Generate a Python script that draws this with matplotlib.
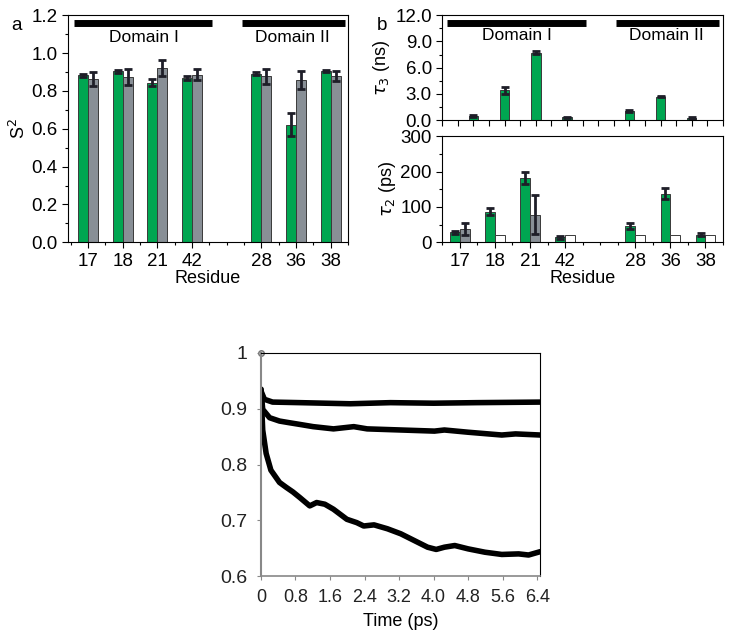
import matplotlib
matplotlib.use("Agg")
import matplotlib.pyplot as plt
from matplotlib.ticker import MultipleLocator, FixedLocator, FormatStrFormatter
import numpy as np

plt.rcParams['font.family'] = ['Liberation Sans', 'DejaVu Sans']
plt.rcParams['font.size'] = 10

# residues, placed at positions 1-4 (domain I) and 6-8 (domain II)
residues = ['17', '18', '21', '42', '28', '36', '38']
pos = [1, 2, 3, 4, 6, 7, 8]

# panel a: S2 order parameters
s2_green = [0.884, 0.903, 0.843, 0.868, 0.891, 0.621, 0.905]
s2_green_err = [0.008, 0.007, 0.018, 0.012, 0.007, 0.06, 0.005]
s2_grey = [0.863, 0.873, 0.921, 0.886, 0.877, 0.856, 0.877]
s2_grey_err = [0.039, 0.044, 0.04, 0.029, 0.04, 0.047, 0.026]

# panel b: tau3 (ns)
tau3 = [0.46, 3.43, 7.73, 0.32, 1.03, 2.7, 0.23]
tau3_err = [0.12, 0.38, 0.15, 0.08, 0.1, 0.08, 0.08]

# panel b: tau2 (ps)
tau2_green = [28, 87, 182, 14, 47, 137, 22]
tau2_green_err = [4, 11, 16, 5, 8, 16, 3]
tau2_grey_pos = [1, 3]
tau2_grey = [38, 78]
tau2_grey_err = [17, 55]
tau2_open_pos = [2, 4, 6, 7, 8]
tau2_open = [22, 22, 22, 22, 22]

# panel c: S2 convergence vs time
t_low = [0, 0.04, 0.12, 0.23, 0.43, 0.59, 0.74, 0.9, 1.13, 1.29, 1.48, 1.68, 1.99, 2.22,
         2.38, 2.62, 2.93, 3.24, 3.55, 3.86, 4.06, 4.25, 4.49, 4.8, 5.19, 5.58, 5.97, 6.2, 6.47]
s2_low = [0.935, 0.862, 0.82, 0.79, 0.768, 0.759, 0.751, 0.741, 0.726, 0.732, 0.729, 0.72,
          0.702, 0.696, 0.69, 0.692, 0.685, 0.676, 0.664, 0.652, 0.648, 0.652, 0.655, 0.649,
          0.643, 0.639, 0.64, 0.638, 0.644]
t_mid = [0, 0.04, 0.2, 0.43, 0.66, 0.9, 1.21, 1.68, 2.15, 2.46, 3.24, 4.02, 4.25, 4.8,
         5.58, 5.9, 6.47]
s2_mid = [0.935, 0.899, 0.884, 0.878, 0.875, 0.872, 0.868, 0.864, 0.868, 0.864, 0.862,
          0.86, 0.862, 0.858, 0.853, 0.855, 0.853]
t_high = [0, 0.08, 0.27, 0.9, 2.07, 3.0, 4.0, 5.0, 6.47]
s2_high = [0.932, 0.917, 0.912, 0.911, 0.909, 0.911, 0.91, 0.911, 0.912]

green = '#00a651'
grey = '#888f96'
errc = '#1e1e28'
edge = '#3a3a3a'

fig = plt.figure(figsize=(7.31, 6.36), dpi=100)

ax_a = fig.add_axes([0.093, 0.619, 0.383, 0.357])
ax_b1 = fig.add_axes([0.605, 0.811, 0.384, 0.165])
ax_b2 = fig.add_axes([0.605, 0.619, 0.384, 0.167])
ax_c = fig.add_axes([0.357, 0.094, 0.382, 0.351])

w = 0.29
p = np.array(pos)
ekw = dict(ecolor=errc, elinewidth=2, capsize=2.6, capthick=2)


def style_box(ax):
    ax.tick_params(direction='out', length=4, width=0.8, labelsize=13.5)
    ax.tick_params(which='minor', direction='out', length=2, width=0.8)
    ax.tick_params(top=False, right=False)


# ---- panel a ----
ax_a.bar(p - w / 2, s2_green, w, color=green, edgecolor=edge, linewidth=0.7,
         yerr=s2_green_err, error_kw=ekw)
ax_a.bar(p + w / 2, s2_grey, w, color=grey, edgecolor=edge, linewidth=0.7,
         yerr=s2_grey_err, error_kw=ekw)
ax_a.set_xlim(0.42, 8.5)
ax_a.set_ylim(0, 1.2)
ax_a.yaxis.set_major_locator(MultipleLocator(0.2))
ax_a.yaxis.set_minor_locator(MultipleLocator(0.1))
ax_a.yaxis.set_major_formatter(FormatStrFormatter('%.1f'))
ax_a.set_xticks(pos)
ax_a.set_xticklabels(residues)
ax_a.xaxis.set_minor_locator(FixedLocator(np.arange(0.5, 8.51, 0.5)))
style_box(ax_a)
ax_a.set_ylabel('S$^2$', fontsize=13, labelpad=2)
ax_a.set_xlabel('Residue', fontsize=13, labelpad=0)
ax_a.plot([0.6, 4.59], [1.157, 1.157], color='black', linewidth=5, solid_capstyle='butt')
ax_a.plot([5.43, 8.41], [1.157, 1.157], color='black', linewidth=5, solid_capstyle='butt')
ax_a.text(2.6, 1.085, 'Domain I', ha='center', va='center', fontsize=12.5)
ax_a.text(6.9, 1.085, 'Domain II', ha='center', va='center', fontsize=12.5)
fig.text(0.016, 0.96, 'a', fontsize=13.5, va='center')

# ---- panel b top: tau3 ----
ax_b1.bar(p, tau3, 0.3, color=green, edgecolor=edge, linewidth=0.7,
          yerr=tau3_err, error_kw=ekw)
ax_b1.set_xlim(0, 9)
ax_b1.set_ylim(0, 12)
ax_b1.yaxis.set_major_locator(MultipleLocator(3))
ax_b1.yaxis.set_minor_locator(MultipleLocator(1.5))
ax_b1.yaxis.set_major_formatter(FormatStrFormatter('%.1f'))
ax_b1.set_xticks(np.arange(0, 9.01, 0.5))
ax_b1.set_xticklabels([])
style_box(ax_b1)
ax_b1.set_ylabel(r'$\tau_3$ (ns)', fontsize=13, labelpad=2)
ax_b1.plot([0.14, 4.61], [11.16, 11.16], color='black', linewidth=5, solid_capstyle='butt')
ax_b1.plot([5.57, 8.87], [11.16, 11.16], color='black', linewidth=5, solid_capstyle='butt')
ax_b1.text(2.4, 9.7, 'Domain I', ha='center', va='center', fontsize=12.5)
ax_b1.text(7.2, 9.7, 'Domain II', ha='center', va='center', fontsize=12.5)
fig.text(0.516, 0.96, 'b', fontsize=13.5, va='center')

# ---- panel b bottom: tau2 ----
ax_b2.bar(p - 0.14, tau2_green, 0.28, color=green, edgecolor=edge, linewidth=0.7,
          yerr=tau2_green_err, error_kw=ekw)
ax_b2.bar(np.array(tau2_grey_pos) + 0.14, tau2_grey, 0.28, color=grey, edgecolor=edge,
          linewidth=0.7, yerr=tau2_grey_err, error_kw=ekw)
ax_b2.bar(np.array(tau2_open_pos) + 0.14, tau2_open, 0.28, color='white', edgecolor=edge,
          linewidth=0.7)
ax_b2.set_xlim(0.5, 8.5)
ax_b2.set_ylim(0, 300)
ax_b2.yaxis.set_major_locator(MultipleLocator(100))
ax_b2.yaxis.set_minor_locator(MultipleLocator(50))
ax_b2.set_xticks(pos)
ax_b2.set_xticklabels(residues)
ax_b2.xaxis.set_minor_locator(FixedLocator(np.arange(0.5, 8.51, 0.5)))
style_box(ax_b2)
ax_b2.set_ylabel(r'$\tau_2$ (ps)', fontsize=13, labelpad=2)
ax_b2.set_xlabel('Residue', fontsize=13, labelpad=0)

# ---- panel c ----
for tt, ss in [(t_high, s2_high), (t_mid, s2_mid), (t_low, s2_low)]:
    ax_c.plot(tt, ss, color='black', linewidth=4, solid_joinstyle='round',
              solid_capstyle='round')
ax_c.plot([0], [1.0], marker='o', markersize=4, markerfacecolor='#cccccc',
          markeredgecolor='#777777', clip_on=False)
ax_c.set_xlim(0, 6.47)
ax_c.set_ylim(0.6, 1.0)
ax_c.set_xticks(np.arange(0, 6.41, 0.8))
ax_c.set_xticklabels(['0', '0.8', '1.6', '2.4', '3.2', '4.0', '4.8', '5.6', '6.4'])
ax_c.set_yticks([0.6, 0.7, 0.8, 0.9, 1.0])
ax_c.set_yticklabels(['0.6', '0.7', '0.8', '0.9', '1'])
ax_c.tick_params(axis='x', direction='out', length=3, width=0.8, color='#888888',
                 labelsize=13, labelcolor='#222222', pad=6)
ax_c.tick_params(axis='y', direction='out', length=3, width=0.8, color='#888888',
                 labelsize=14, labelcolor='#222222', pad=7)
ax_c.spines['left'].set_color('#888888')
ax_c.spines['left'].set_linewidth(1.5)
ax_c.spines['bottom'].set_color('#888888')
ax_c.spines['bottom'].set_linewidth(1.2)
ax_c.set_xlabel('Time (ps)', fontsize=13, labelpad=5)

fig.savefig('out.png', dpi=100)
